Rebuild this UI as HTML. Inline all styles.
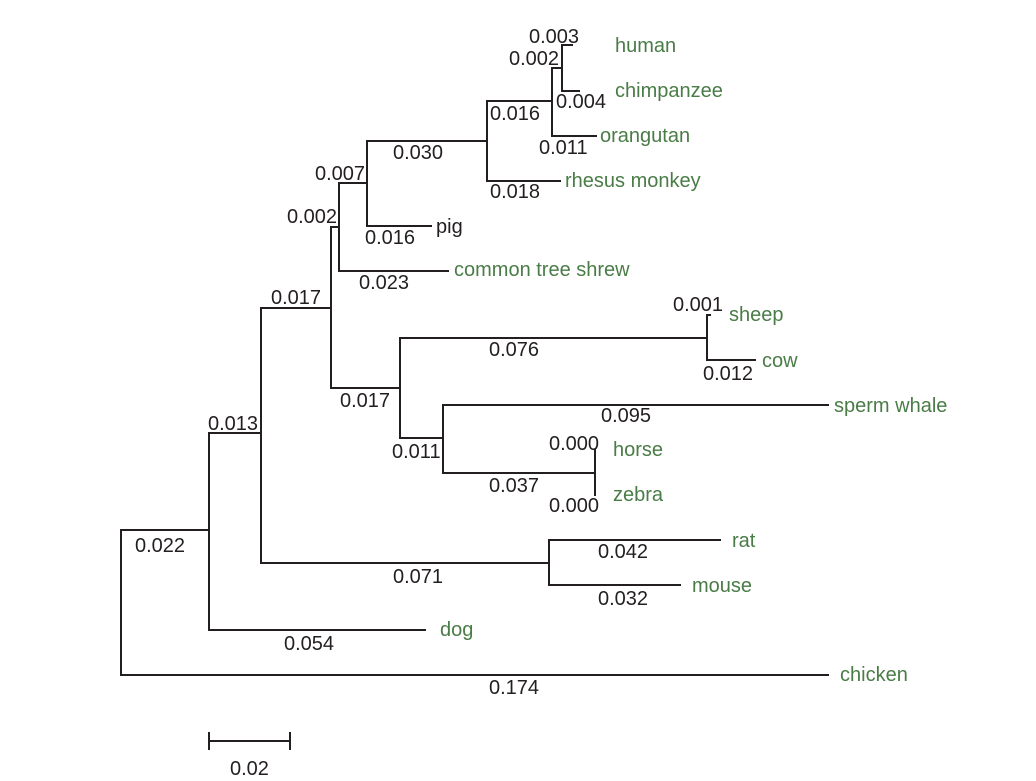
<!DOCTYPE html>
<html><head><meta charset="utf-8"><style>
html,body{margin:0;padding:0;background:#fff;}
svg{display:block;}
text{font-family:"Liberation Sans",sans-serif;font-size:20px;fill:#231f20;dominant-baseline:central;}
text.g{fill:#4a7c47;}
</style></head><body>
<svg width="1036" height="781" viewBox="0 0 1036 781">
<g stroke="#231f20" stroke-width="2" fill="none" stroke-linecap="square">
<path d="M121 530V675H828"/>
<path d="M121 530H209"/>
<path d="M209 433V630H425"/>
<path d="M209 433H261"/>
<path d="M261 308V563H549"/>
<path d="M549 540V585H680"/>
<path d="M549 540H720"/>
<path d="M261 308H331"/>
<path d="M331 227V388H400"/>
<path d="M331 227H339"/>
<path d="M339 183V271H448"/>
<path d="M339 183H367"/>
<path d="M367 141V226H431"/>
<path d="M367 141H487"/>
<path d="M487 101V181H560"/>
<path d="M487 101H552"/>
<path d="M552 68V136H596"/>
<path d="M552 68H562"/>
<path d="M562 45V91H579"/>
<path d="M562 45H572"/>
<path d="M400 338V438H443"/>
<path d="M400 338H707"/>
<path d="M707 315V360H755"/>
<path d="M707 315H710"/>
<path d="M443 405V473H595"/>
<path d="M443 405H828"/>
<path d="M595 450V495"/>
<path d="M209 741H290M209 733V749M290 733V749"/>
</g>
<g transform="translate(0,1)">
<text x="529" y="36">0.003</text>
<text x="509" y="58">0.002</text>
<text x="556" y="101">0.004</text>
<text x="490" y="113">0.016</text>
<text x="539" y="147">0.011</text>
<text x="393" y="152">0.030</text>
<text x="490" y="191">0.018</text>
<text x="315" y="173">0.007</text>
<text x="287" y="216">0.002</text>
<text x="365" y="237">0.016</text>
<text x="359" y="282">0.023</text>
<text x="271" y="297">0.017</text>
<text x="673" y="304">0.001</text>
<text x="489" y="349">0.076</text>
<text x="703" y="373">0.012</text>
<text x="340" y="400">0.017</text>
<text x="601" y="415">0.095</text>
<text x="549" y="443">0.000</text>
<text x="392" y="451">0.011</text>
<text x="489" y="485">0.037</text>
<text x="549" y="505">0.000</text>
<text x="208" y="423">0.013</text>
<text x="135" y="545">0.022</text>
<text x="598" y="551">0.042</text>
<text x="393" y="576">0.071</text>
<text x="598" y="598">0.032</text>
<text x="284" y="643">0.054</text>
<text x="489" y="687">0.174</text>
<text x="230" y="768">0.02</text>
<text class="g" x="615" y="45">human</text>
<text class="g" x="615" y="90">chimpanzee</text>
<text class="g" x="600" y="135">orangutan</text>
<text class="g" x="565" y="180">rhesus monkey</text>
<text x="436" y="226">pig</text>
<text class="g" x="454" y="269">common tree shrew</text>
<text class="g" x="729" y="314">sheep</text>
<text class="g" x="762" y="360">cow</text>
<text class="g" x="834" y="405">sperm whale</text>
<text class="g" x="613" y="449">horse</text>
<text class="g" x="613" y="494">zebra</text>
<text class="g" x="732" y="540">rat</text>
<text class="g" x="692" y="585">mouse</text>
<text class="g" x="440" y="629">dog</text>
<text class="g" x="840" y="674">chicken</text>
</g>
</svg>
</body></html>
